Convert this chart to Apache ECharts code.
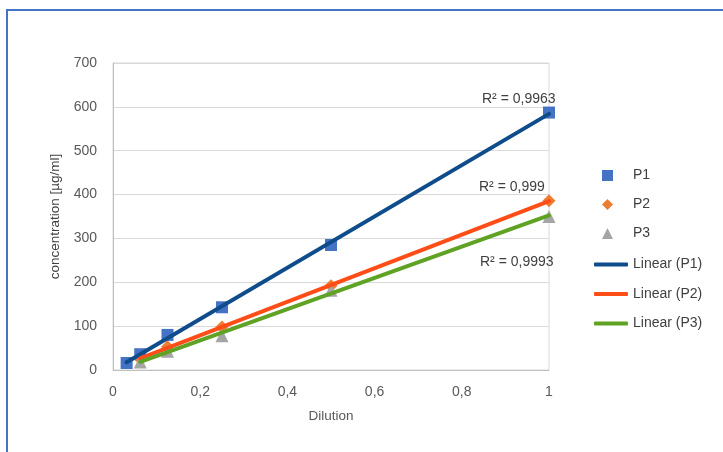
<!DOCTYPE html>
<html><head><meta charset="utf-8">
<script src="https://cdn.jsdelivr.net/npm/echarts@6/dist/echarts.min.js"></script>
<style>html,body{margin:0;padding:0;background:#fff}#c{width:723px;height:452px}</style>
</head><body><div id="c"></div>
<script>
const xP1 = [0.03125, 0.0625, 0.125, 0.25, 0.5, 1];
const yP1 = [16, 36, 80, 143, 285, 587];
const xP2 = [0.0625, 0.125, 0.25, 0.5, 1];
const yP2 = [25, 53, 98, 192, 386];
const xP3 = [0.0625, 0.125, 0.25, 0.5, 1];
const yP3 = [18, 43, 78, 182, 350];
const xTicks = [0, 0.2, 0.4, 0.6, 0.8, 1];
const r2Labels = ['R² = 0,9963', 'R² = 0,999', 'R² = 0,9993'];

function pairs(xs, ys){ return xs.map((x,i)=>[x, ys[i]]); }
function fitLine(xs, ys){
  const n = xs.length;
  const mx = xs.reduce((a,b)=>a+b,0)/n, my = ys.reduce((a,b)=>a+b,0)/n;
  let sxy=0, sxx=0;
  for(let i=0;i<n;i++){ sxy+=(xs[i]-mx)*(ys[i]-my); sxx+=(xs[i]-mx)*(xs[i]-mx); }
  const b = sxy/sxx, a = my - b*mx;
  const x0 = Math.min(...xs), x1 = Math.max(...xs);
  return [[x0, a+b*x0],[x1, a+b*x1]];
}
const FONT = 'Liberation Sans';
const chart = echarts.init(document.getElementById('c'));
chart.setOption({
  animation:false,
  textStyle:{fontFamily:FONT},
  grid:{left:113, right:174, top:63, bottom:82, show:true, borderColor:'#d9d9d9', borderWidth:1},
  xAxis:{type:'value', min:0, max:1, interval:0.2,
    name:'Dilution', nameLocation:'middle', nameGap:39,
    nameTextStyle:{color:'#595959', fontSize:13.5, fontFamily:FONT},
    axisLine:{show:true, lineStyle:{color:'#bfbfbf'}}, axisTick:{show:false},
    splitLine:{show:false},
    axisLabel:{color:'#595959', fontSize:14, margin:15,
      formatter:v=>String(+v.toFixed(1)).replace('.',',')}},
  yAxis:{type:'value', min:0, max:700, interval:100,
    name:'concentration [µg/ml]', nameLocation:'middle', nameGap:46,
    nameTextStyle:{color:'#404040', fontSize:13.5, fontFamily:FONT},
    axisLine:{show:true, lineStyle:{color:'#bfbfbf'}}, axisTick:{show:false},
    splitLine:{lineStyle:{color:'#d9d9d9'}},
    axisLabel:{color:'#595959', fontSize:14, margin:16}},
  legend:[
    {orient:'vertical', left:602, top:168, itemWidth:11, itemHeight:11, itemGap:14, padding:0,
     data:[{name:'P1', icon:'rect'},{name:'P2', icon:'diamond'},{name:'P3', icon:'triangle'}],
     textStyle:{color:'#404040', fontSize:14, lineHeight:15, padding:[0,0,0,15], fontFamily:FONT}},
    {orient:'vertical', left:594, top:257, itemWidth:34, itemHeight:4, itemGap:14.5, padding:0,
     data:[{name:'Linear (P1)', icon:'roundRect'},{name:'Linear (P2)', icon:'roundRect'},{name:'Linear (P3)', icon:'roundRect'}],
     textStyle:{color:'#404040', fontSize:14, lineHeight:15, fontFamily:FONT}}
  ],
  series:[
    {name:'P1', type:'scatter', symbol:'rect', symbolSize:12, itemStyle:{color:'#4472C4', opacity:1}, data:pairs(xP1,yP1), z:2},
    {name:'P2', type:'scatter', symbol:'diamond', symbolSize:13, itemStyle:{color:'#ED7D31', opacity:1}, data:pairs(xP2,yP2), z:2},
    {name:'P3', type:'scatter', symbol:'triangle', symbolSize:13, itemStyle:{color:'#A5A5A5', opacity:1}, data:pairs(xP3,yP3), z:2},
    {name:'Linear (P1)', type:'line', symbol:'none', lineStyle:{color:'#0E4C8C', width:4, cap:'round'}, itemStyle:{color:'#0E4C8C'}, data:fitLine(xP1,yP1), z:3},
    {name:'Linear (P2)', type:'line', symbol:'none', lineStyle:{color:'#FF4D17', width:4, cap:'round'}, itemStyle:{color:'#FF4D17'}, data:fitLine(xP2,yP2), z:3},
    {name:'Linear (P3)', type:'line', symbol:'none', lineStyle:{color:'#5FA224', width:4, cap:'round'}, itemStyle:{color:'#5FA224'}, data:fitLine(xP3,yP3), z:3}
  ],
  graphic:[
    {type:'rect', shape:{x:7, y:10, width:900, height:700}, style:{fill:'none', stroke:'#4472C4', lineWidth:2}, silent:true, z:0},
    {type:'text', left:482, top:92, style:{text:r2Labels[0], fill:'#404040', font:'14px "Liberation Sans"'}, z:10},
    {type:'text', left:479, top:180, style:{text:r2Labels[1], fill:'#404040', font:'14px "Liberation Sans"'}, z:10},
    {type:'text', left:480, top:255, style:{text:r2Labels[2], fill:'#404040', font:'14px "Liberation Sans"'}, z:10}
  ]
});
</script></body></html>
